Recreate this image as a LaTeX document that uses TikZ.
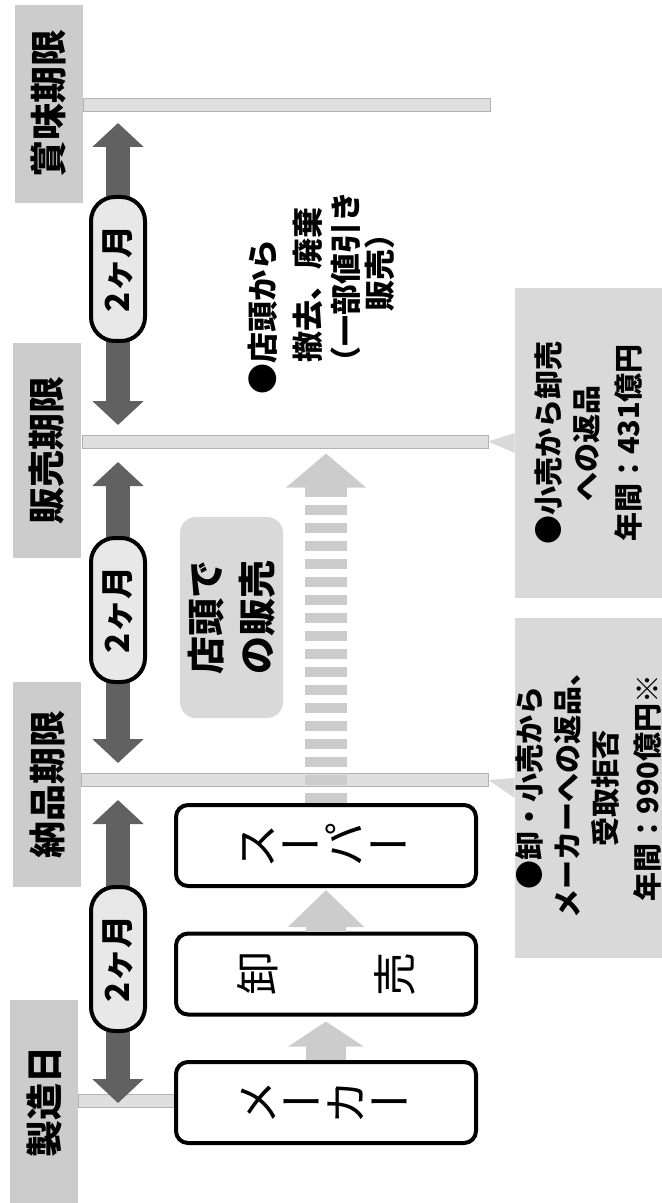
\documentclass[tikz,border=0pt]{standalone}
\usepackage{fontspec}
\setmainfont{Noto Sans CJK JP}
\usepackage{graphicx}
\usetikzlibrary{positioning,arrows.meta,calc}

\newcommand{\rch}[1]{\rotatebox[origin=c]{90}{#1}}

\begin{document}
\begin{tikzpicture}[x=0.5pt,y=-0.5pt,
  tag/.style={fill=gray!40, rotate=90, inner sep=0pt, minimum height=34pt,
    font=\bfseries\fontsize{18.5}{20}\selectfont},
  limline/.style={fill=gray!25, draw=gray!60, line width=0.5pt, inner sep=0pt, minimum height=6.5pt},
  span/.style={draw=black!62, line width=12pt,
    {Triangle[width=25pt,length=12pt]}-{Triangle[width=25pt,length=12pt]}},
  pill/.style={draw, line width=2pt, fill=gray!18, rounded corners=12pt, rotate=90,
    minimum width=72pt, minimum height=27pt, inner sep=0pt, font=\bfseries\fontsize{16.5}{18}\selectfont},
  stage/.style={draw, line width=2pt, fill=white, rounded corners=6pt,
    minimum width=150pt, minimum height=40.5pt, inner sep=0pt, font=\fontsize{22}{24}\selectfont},
  flow/.style={draw=gray!40, line width=20pt},
  note/.style={rotate=90, anchor=west, inner sep=0pt, font=\bfseries\fontsize{15.5}{17}\selectfont},
  callout/.style={fill=gray!30, rotate=90, align=center, inner sep=0pt,
    minimum height=73.5pt, font=\bfseries\fontsize{14.5}{19}\selectfont}
]
\useasboundingbox (0,0) rectangle (662,1203);

% Limit lines
\node[limline, minimum width=203.5pt] (lSho) at (286.5,105) {};
\node[limline, minimum width=203pt] (lHan) at (285,441.5) {};
\node[limline, minimum width=203.5pt] (lNou) at (284.5,780) {};
\node[limline, minimum width=48pt] (lSei) at (126,1101) {};

% Date tags
\node[tag, minimum width=99pt] (tSho) at (49,104) {賞味期限};
\node[tag, minimum width=107.5pt] (tHan) at (47,450.5) {販売期限};
\node[tag, minimum width=102.5pt] (tNou) at (47,784.5) {納品期限};
\node[tag, minimum width=101.5pt] (tSei) at (44,1101.5) {製造日};

% Two-month spans
\foreach \n/\t/\b/\p in {1/123/425/269, 2/462/763/610, 3/800/1103/959} {
  \coordinate (st\n) at (118,\t);
  \coordinate (sb\n) at (118,\b);
  \draw[span] (st\n) -- (sb\n);
  \node[pill] (pill\n) at (118,\p) {2ヶ月};
}

% Distribution chain
\node[stage] (super) at (326,845.5) {\rch{ス}\hspace{2pt}ー\hspace{2pt}\rch{パ}\hspace{2pt}ー};
\node[stage] (oroshi) at (326,974) {\rch{卸}\hspace{48pt}\rch{売}};
\node[stage] (maker) at (326,1102.5) {\rch{メ}\hspace{2pt}ー\hspace{2pt}\rch{カ}\hspace{2pt}ー};
\draw[flow, -{Triangle[width=37pt,length=12.5pt]}, shorten >=2.5pt] (maker.north) -- (oroshi.south);
\draw[flow, -{Triangle[width=37pt,length=18.5pt]}, shorten >=1pt] (oroshi.north) -- (super.south);

% Selling at the store
\draw[draw=gray!40, line width=21pt, dash pattern=on 5pt off 4pt,
  -{Triangle[width=39pt,length=17pt]}, shorten >=2.5pt] (super.north) -- (lHan.south -| super.north);
\node[fill=gray!30, rounded corners=8pt, rotate=90, minimum width=100.5pt, minimum height=51.5pt,
  align=left, inner sep=0pt, font=\bfseries\fontsize{19}{25.5}\selectfont] (shop) at (231.5,617.5) {店頭で\\の販売};

% After the sales limit
\node[note] (n1) at (263,395) {●店頭から};
\node[note] (n2) at (308,363) {撤去、廃棄};
\node[note] (n3) at (346,378) {（一部値引き};
\node[note] (n4) at (380,312) {販売）};

% Returns
\node[callout, minimum width=155pt] (co1) at (588.5,443) {●小売から卸売\\への返品\\[2pt]年間：431億円};
\node[callout, minimum width=170pt] (co2) at (588.5,788) {●卸・小売から\\メーカーへの返品、\\受取拒否\\[2pt]年間：990億円※};
\fill[gray!30] ($(co1.north)+(0,-10)$) -- (lHan.east) -- ($(co1.north)+(0,10)$) -- cycle;
\fill[gray!30] ($(co2.north)+(0,-10)$) -- (lNou.east) -- ($(co2.north)+(0,10)$) -- cycle;
\end{tikzpicture}
\end{document}
